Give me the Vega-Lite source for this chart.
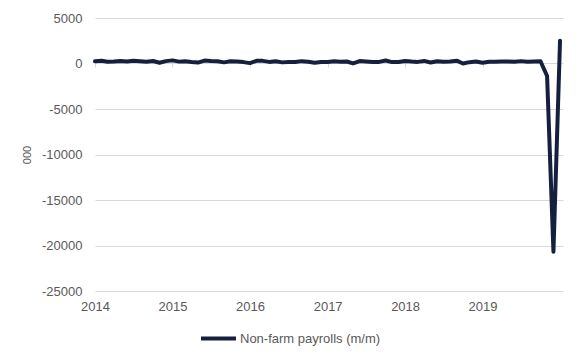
{
  "$schema": "https://vega.github.io/schema/vega-lite/v6.json",
  "width": 468,
  "height": 273,
  "autosize": {"type": "none"},
  "padding": {"left": 95, "top": 18, "right": 19, "bottom": 69},
  "background": "white",
  "config": {
    "view": {"stroke": null},
    "font": "Liberation Sans",
    "axis": {"labelFont": "Liberation Sans", "labelFontSize": 13, "labelColor": "#595959", "titleFont": "Liberation Sans", "titleColor": "#595959"}
  },
  "data": {
    "values": [
      {"date": "2014-01-01", "value": 246, "series": "Non-farm payrolls (m/m)"},
      {"date": "2014-02-01", "value": 304, "series": "Non-farm payrolls (m/m)"},
      {"date": "2014-03-01", "value": 202, "series": "Non-farm payrolls (m/m)"},
      {"date": "2014-04-01", "value": 230, "series": "Non-farm payrolls (m/m)"},
      {"date": "2014-05-01", "value": 280, "series": "Non-farm payrolls (m/m)"},
      {"date": "2014-06-01", "value": 227, "series": "Non-farm payrolls (m/m)"},
      {"date": "2014-07-01", "value": 312, "series": "Non-farm payrolls (m/m)"},
      {"date": "2014-08-01", "value": 255, "series": "Non-farm payrolls (m/m)"},
      {"date": "2014-09-01", "value": 190, "series": "Non-farm payrolls (m/m)"},
      {"date": "2014-10-01", "value": 272, "series": "Non-farm payrolls (m/m)"},
      {"date": "2014-11-01", "value": 86, "series": "Non-farm payrolls (m/m)"},
      {"date": "2014-12-01", "value": 262, "series": "Non-farm payrolls (m/m)"},
      {"date": "2015-01-01", "value": 344, "series": "Non-farm payrolls (m/m)"},
      {"date": "2015-02-01", "value": 206, "series": "Non-farm payrolls (m/m)"},
      {"date": "2015-03-01", "value": 254, "series": "Non-farm payrolls (m/m)"},
      {"date": "2015-04-01", "value": 157, "series": "Non-farm payrolls (m/m)"},
      {"date": "2015-05-01", "value": 100, "series": "Non-farm payrolls (m/m)"},
      {"date": "2015-06-01", "value": 321, "series": "Non-farm payrolls (m/m)"},
      {"date": "2015-07-01", "value": 272, "series": "Non-farm payrolls (m/m)"},
      {"date": "2015-08-01", "value": 239, "series": "Non-farm payrolls (m/m)"},
      {"date": "2015-09-01", "value": 126, "series": "Non-farm payrolls (m/m)"},
      {"date": "2015-10-01", "value": 237, "series": "Non-farm payrolls (m/m)"},
      {"date": "2015-11-01", "value": 225, "series": "Non-farm payrolls (m/m)"},
      {"date": "2015-12-01", "value": 153, "series": "Non-farm payrolls (m/m)"},
      {"date": "2016-01-01", "value": 43, "series": "Non-farm payrolls (m/m)"},
      {"date": "2016-02-01", "value": 297, "series": "Non-farm payrolls (m/m)"},
      {"date": "2016-03-01", "value": 291, "series": "Non-farm payrolls (m/m)"},
      {"date": "2016-04-01", "value": 176, "series": "Non-farm payrolls (m/m)"},
      {"date": "2016-05-01", "value": 249, "series": "Non-farm payrolls (m/m)"},
      {"date": "2016-06-01", "value": 124, "series": "Non-farm payrolls (m/m)"},
      {"date": "2016-07-01", "value": 164, "series": "Non-farm payrolls (m/m)"},
      {"date": "2016-08-01", "value": 155, "series": "Non-farm payrolls (m/m)"},
      {"date": "2016-09-01", "value": 259, "series": "Non-farm payrolls (m/m)"},
      {"date": "2016-10-01", "value": 195, "series": "Non-farm payrolls (m/m)"},
      {"date": "2016-11-01", "value": 73, "series": "Non-farm payrolls (m/m)"},
      {"date": "2016-12-01", "value": 175, "series": "Non-farm payrolls (m/m)"},
      {"date": "2017-01-01", "value": 155, "series": "Non-farm payrolls (m/m)"},
      {"date": "2017-02-01", "value": 239, "series": "Non-farm payrolls (m/m)"},
      {"date": "2017-03-01", "value": 190, "series": "Non-farm payrolls (m/m)"},
      {"date": "2017-04-01", "value": 221, "series": "Non-farm payrolls (m/m)"},
      {"date": "2017-05-01", "value": 14, "series": "Non-farm payrolls (m/m)"},
      {"date": "2017-06-01", "value": 271, "series": "Non-farm payrolls (m/m)"},
      {"date": "2017-07-01", "value": 216, "series": "Non-farm payrolls (m/m)"},
      {"date": "2017-08-01", "value": 175, "series": "Non-farm payrolls (m/m)"},
      {"date": "2017-09-01", "value": 176, "series": "Non-farm payrolls (m/m)"},
      {"date": "2017-10-01", "value": 324, "series": "Non-farm payrolls (m/m)"},
      {"date": "2017-11-01", "value": 155, "series": "Non-farm payrolls (m/m)"},
      {"date": "2017-12-01", "value": 175, "series": "Non-farm payrolls (m/m)"},
      {"date": "2018-01-01", "value": 268, "series": "Non-farm payrolls (m/m)"},
      {"date": "2018-02-01", "value": 208, "series": "Non-farm payrolls (m/m)"},
      {"date": "2018-03-01", "value": 178, "series": "Non-farm payrolls (m/m)"},
      {"date": "2018-04-01", "value": 286, "series": "Non-farm payrolls (m/m)"},
      {"date": "2018-05-01", "value": 108, "series": "Non-farm payrolls (m/m)"},
      {"date": "2018-06-01", "value": 245, "series": "Non-farm payrolls (m/m)"},
      {"date": "2018-07-01", "value": 196, "series": "Non-farm payrolls (m/m)"},
      {"date": "2018-08-01", "value": 227, "series": "Non-farm payrolls (m/m)"},
      {"date": "2018-09-01", "value": 312, "series": "Non-farm payrolls (m/m)"},
      {"date": "2018-10-01", "value": 1, "series": "Non-farm payrolls (m/m)"},
      {"date": "2018-11-01", "value": 147, "series": "Non-farm payrolls (m/m)"},
      {"date": "2018-12-01", "value": 210, "series": "Non-farm payrolls (m/m)"},
      {"date": "2019-01-01", "value": 85, "series": "Non-farm payrolls (m/m)"},
      {"date": "2019-02-01", "value": 182, "series": "Non-farm payrolls (m/m)"},
      {"date": "2019-03-01", "value": 194, "series": "Non-farm payrolls (m/m)"},
      {"date": "2019-04-01", "value": 207, "series": "Non-farm payrolls (m/m)"},
      {"date": "2019-05-01", "value": 208, "series": "Non-farm payrolls (m/m)"},
      {"date": "2019-06-01", "value": 185, "series": "Non-farm payrolls (m/m)"},
      {"date": "2019-07-01", "value": 261, "series": "Non-farm payrolls (m/m)"},
      {"date": "2019-08-01", "value": 184, "series": "Non-farm payrolls (m/m)"},
      {"date": "2019-09-01", "value": 214, "series": "Non-farm payrolls (m/m)"},
      {"date": "2019-10-01", "value": 251, "series": "Non-farm payrolls (m/m)"},
      {"date": "2019-11-01", "value": -1373, "series": "Non-farm payrolls (m/m)"},
      {"date": "2019-12-01", "value": -20687, "series": "Non-farm payrolls (m/m)"},
      {"date": "2020-01-01", "value": 2500, "series": "Non-farm payrolls (m/m)"}
    ]
  },
  "mark": {"type": "line", "strokeWidth": 4, "strokeJoin": "round", "strokeCap": "round"},
  "encoding": {
    "x": {
      "field": "date",
      "type": "temporal",
      "scale": {"domain": [{"year": 2014, "month": 1, "date": 1}, {"year": 2020, "month": 1, "date": 15}]},
      "axis": {
        "title": null,
        "values": [
          {"year": 2014, "month": 1, "date": 1},
          {"year": 2015, "month": 1, "date": 1},
          {"year": 2016, "month": 1, "date": 1},
          {"year": 2017, "month": 1, "date": 1},
          {"year": 2018, "month": 1, "date": 1},
          {"year": 2019, "month": 1, "date": 1},
          {"year": 2020, "month": 1, "date": 1}
        ],
        "labelExpr": "year(datum.value) == 2020 ? '' : timeFormat(datum.value, '%Y')",
        "offset": -229,
        "domain": false,
        "grid": false,
        "ticks": true,
        "tickColor": "#d9d9d9",
        "tickSize": 5,
        "labelPadding": 233,
        "labelAngle": 0,
        "labelFlush": false,
        "labelOverlap": false
      }
    },
    "y": {
      "field": "value",
      "type": "quantitative",
      "scale": {"domain": [-25000, 5000], "nice": false, "zero": false},
      "axis": {
        "title": "000",
        "titleFontSize": 11,
        "titleFontWeight": "normal",
        "titlePadding": 9,
        "values": [-25000, -20000, -15000, -10000, -5000, 0, 5000],
        "labelExpr": "'' + datum.value",
        "domain": false,
        "ticks": false,
        "labelPadding": 13,
        "gridColor": "#d9d9d9",
        "gridWidth": 1
      }
    },
    "color": {
      "field": "series",
      "type": "nominal",
      "scale": {"range": ["#15203f"]},
      "legend": {
        "title": null,
        "orient": "none",
        "legendX": 104,
        "legendY": 301,
        "symbolType": "stroke",
        "symbolSize": 1225,
        "symbolStrokeWidth": 4,
        "labelFont": "Liberation Sans",
        "labelFontSize": 13,
        "labelColor": "#595959",
        "labelOffset": 2,
        "padding": 0
      }
    }
  }
}
